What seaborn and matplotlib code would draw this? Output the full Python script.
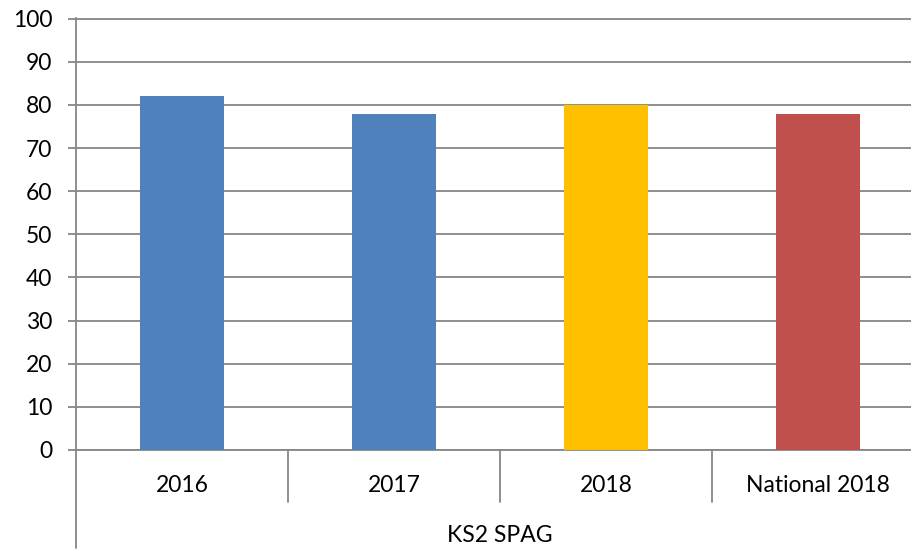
import matplotlib
matplotlib.use("Agg")
import matplotlib.pyplot as plt
import matplotlib.transforms as mtransforms
import seaborn as sns
import pandas as pd

categories = ["2016", "2017", "2018", "National 2018"]
values = [82, 78, 80, 78]
group_label = "KS2 SPAG"
bar_colors = ["#4F81BD", "#4F81BD", "#FFC000", "#C0504D"]
y_ticks = list(range(0, 101, 10))

sns.set_theme(style="white")
plt.rcParams['font.family'] = ['Lato', 'DejaVu Sans']

axis_gray = "#868686"
fs = 16.5

fig = plt.figure(figsize=(9.12, 5.5), dpi=100)
ax = fig.add_axes([76/912, 100/550, 848/912, 432/550])

df = pd.DataFrame({"cat": categories, "val": values})
sns.barplot(data=df, x="cat", y="val", hue="cat", palette=bar_colors,
            width=0.4, legend=False, ax=ax, saturation=1, zorder=3,
            linewidth=0, edgecolor="none")

ax.set_xlim(-0.5, len(categories) - 0.5)
ax.set_ylim(0, 100.15)
ax.set_yticks(y_ticks)
ax.set_yticklabels([str(t) for t in y_ticks])
ax.yaxis.grid(True, color=axis_gray, linewidth=1.3)
ax.set_axisbelow(True)
ax.set_xlabel("")
ax.set_ylabel("")

for s in ["top", "right"]:
    ax.spines[s].set_visible(False)
for s in ["left", "bottom"]:
    ax.spines[s].set_color(axis_gray)
    ax.spines[s].set_linewidth(1.3)

ax.tick_params(axis='y', length=6, width=1.3, color=axis_gray, pad=11,
               labelsize=fs, labelcolor="black", left=True)
ax.tick_params(axis='x', length=0, pad=18, labelsize=fs, labelcolor="black")

trans = mtransforms.blended_transform_factory(ax.transData, ax.transAxes)
# category separators
for b in [0.5, 1.5, 2.5]:
    ax.plot([b, b], [0, -0.12], transform=trans, color=axis_gray,
            linewidth=1.3, clip_on=False)
# extended left axis line
ax.plot([0, 0], [0, -0.227], transform=ax.transAxes, color=axis_gray,
        linewidth=1.3, clip_on=False)
# group label
ax.text((len(categories) - 1) / 2, -0.197, group_label, transform=trans,
        ha="center", va="center", fontsize=fs, color="black")

fig.savefig("out.png", dpi=100)
